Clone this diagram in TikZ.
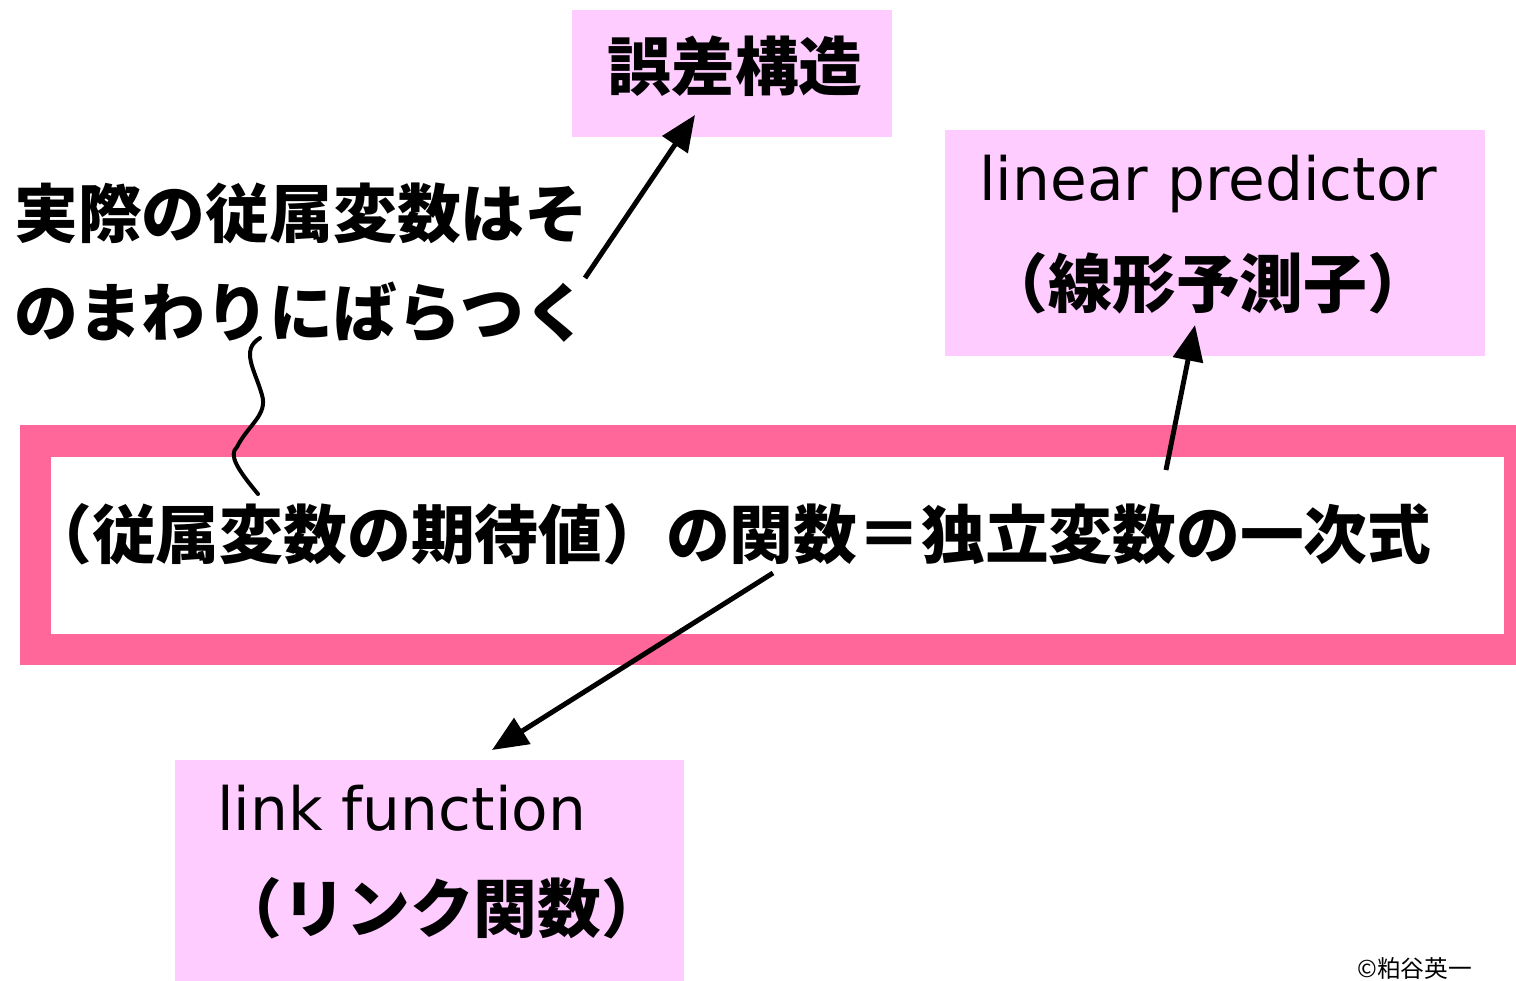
\documentclass[tikz,border=0pt]{standalone}
\usepackage{fontspec}
\setmainfont{Noto Sans CJK JP}
\newfontfamily\latf{DejaVu Sans}
\usetikzlibrary{arrows.meta}
\definecolor{lpink}{HTML}{FFCCFF}
\definecolor{bpink}{HTML}{FF6699}
\tikzset{
  pbox/.style={fill=lpink, draw=none},
  big/.style={font=\fontsize{36.3pt}{40pt}\selectfont\bfseries, inner sep=0pt},
  lat/.style={font=\latf\fontsize{34pt}{40pt}\selectfont, inner sep=0pt},
  arr/.style={line width=2.83pt, -{Triangle[length=20.4pt,width=17pt]}},
}
\begin{document}
\begin{tikzpicture}[x=0.02cm,y=-0.02cm]
\useasboundingbox (0,0) rectangle (1516,981);
% boxes
\fill[pbox] (572,10) rectangle (892,137);
\fill[pbox] (945,130) rectangle (1485,356);
\fill[pbox] (175,760) rectangle (684,981);
\draw[bpink, line width=18.14pt] (35.5,441) rectangle (1520,649.5);
% texts
\node[big] (err) at (735,66) {誤差構造};
\node[big, anchor=west] (t1) at (14,213) {実際の従属変数はそ};
\node[big, anchor=west] (t2) at (14,312) {のまわりにばらつく};
\node[lat, anchor=west] (lp1) at (979,184) {linear predictor};
\node[big] (lp2) at (1208,283) {（線形予測子）};
\node[big, anchor=west] (main) at (28,534) {（従属変数の期待値）の関数＝独立変数の一次式};
\node[lat, anchor=west] (lf1) at (217,808) {link function};
\node[big] (lf2) at (442,908) {（リンク関数）};
\node[font=\fontsize{13.5pt}{16pt}\selectfont, anchor=south west, inner sep=0pt] (copy) at (1357,980) {©粕谷英一};
% arrows
\coordinate (a1s) at (585,278);
\coordinate (a1e) at (695,115);
\draw[arr] (a1s) -- (a1e);
\coordinate (a2s) at (1166,470);
\coordinate (a2e) at (1195,325);
\draw[arr] (a2s) -- (a2e);
\coordinate (a3s) at (773,573);
\coordinate (a3e) at (492,750);
\draw[arr] (a3s) -- (a3e);
% wavy line
\coordinate (w0) at (258,494);
\coordinate (w1) at (237,447);
\coordinate (w2) at (262,395);
\coordinate (w3) at (260,338);
\draw[line width=2.27pt, line cap=round] (w0) .. controls (238,470) and (228,455) .. (w1)
  .. controls (248,425) and (268,415) .. (w2)
  .. controls (255,370) and (240,350) .. (w3);
\end{tikzpicture}
\end{document}
